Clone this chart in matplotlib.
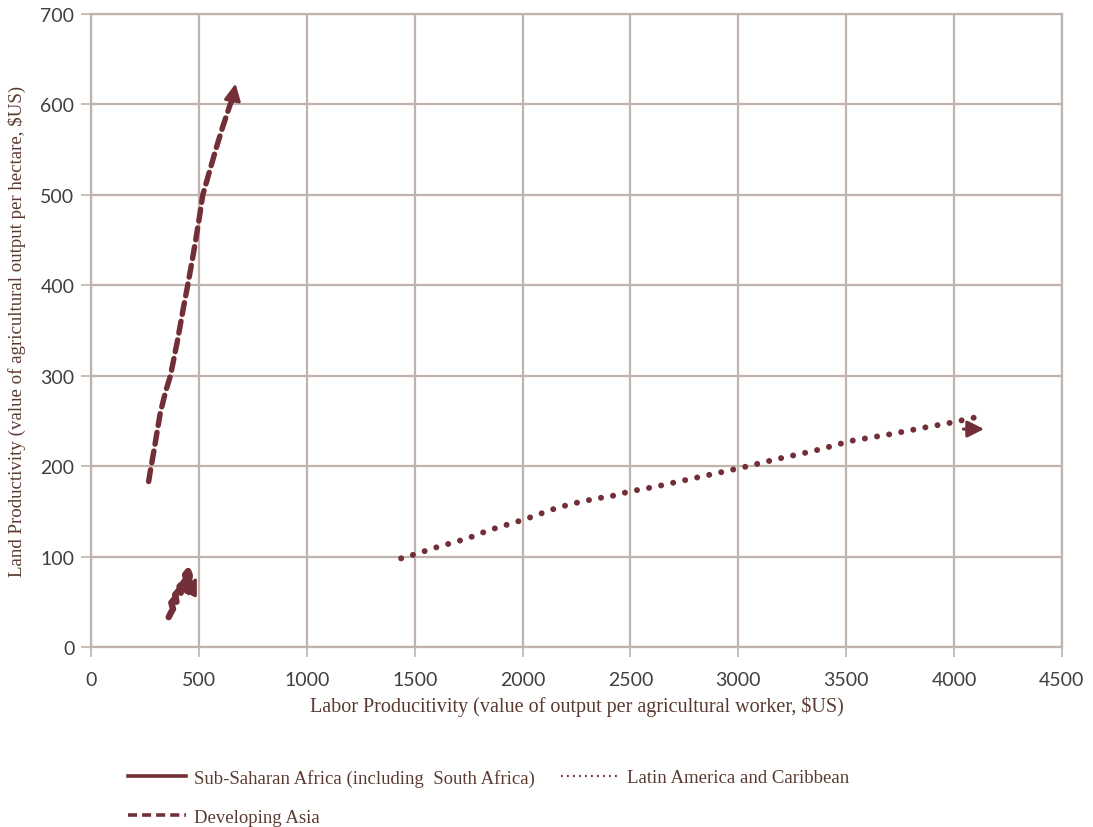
import matplotlib.pyplot as plt
from matplotlib.lines import Line2D

# Land vs labor productivity paths
africa_x = [360, 368, 380, 372, 386, 396, 390, 405, 416, 410, 425, 440, 436, 450, 458, 452, 444]
africa_y = [33, 37, 42, 49, 53, 50, 58, 62, 60, 67, 70, 75, 80, 84, 79, 71, 62]

latin_x = [1437, 1494, 1598, 1744, 1842, 2008, 2173, 2212, 2241, 2356, 2383, 2496,
           2611, 2724, 2897, 3010, 3182, 3353, 3524, 3697, 3870, 3985, 4100]
latin_y = [98, 102, 110, 120, 129, 141, 155, 157, 159, 165, 165, 172,
           177, 183, 192, 198, 208, 217, 228, 235, 243, 248, 254]

asia_x = [267, 275, 290, 321, 345, 368, 400, 428, 448, 467, 485, 502, 518, 548, 578, 610, 645, 656]
asia_y = [183, 195, 215, 259, 282, 300, 338, 375, 400, 425, 450, 475, 500, 525, 550, 575, 600, 606]

x_ticks = [0, 500, 1000, 1500, 2000, 2500, 3000, 3500, 4000, 4500]
y_ticks = [0, 100, 200, 300, 400, 500, 600, 700]

line_color = '#722F37'
grid_color = '#BFB3AC'
text_color = '#5A3A30'
serif = 'Liberation Serif'

fig = plt.figure(figsize=(10.93, 8.28), dpi=100)
ax = fig.add_axes([0.0833, 0.2174, 0.8883, 0.7645])

ax.plot(africa_x, africa_y, color=line_color, lw=4.6, solid_capstyle='round',
        solid_joinstyle='round')
ax.plot(latin_x, latin_y, color=line_color, lw=4.3,
        linestyle=(0, (0.01, 2.05)), dash_capstyle='round')
ax.plot(asia_x, asia_y, color=line_color, lw=3.9,
        linestyle=(0, (2.2, 1.3)), dash_capstyle='round')

arrow = dict(arrowstyle='-|>,head_width=0.5,head_length=1.0', color=line_color, lw=2.2)
ax.annotate('', xy=(672, 626), xytext=(652, 600), arrowprops=arrow)
ax.annotate('', xy=(4152, 241), xytext=(4030, 241), arrowprops=arrow)
ax.annotate('', xy=(496, 80), xytext=(446, 56), arrowprops=arrow)

ax.set_xlim(0, 4500)
ax.set_ylim(0, 700)
ax.set_xticks(x_ticks)
ax.set_yticks(y_ticks)
ax.grid(True, color=grid_color, lw=1.6)
ax.set_axisbelow(True)
for s in ax.spines.values():
    s.set_color(grid_color)
    s.set_linewidth(1.6)
ax.tick_params(colors=grid_color, length=7, width=1.2, labelcolor='#404040',
               labelsize=14)
ax.tick_params(axis='x', pad=10)
ax.tick_params(axis='y', pad=5)
for lab in ax.get_xticklabels() + ax.get_yticklabels():
    lab.set_family('Lato')

ax.set_xlabel('Labor Producitivity (value of output per agricultural worker, $US)',
              family=serif, fontsize=14.5, color=text_color, labelpad=6)
ax.set_ylabel('Land Productivity (value of agricultural output per hectare, $US)',
              family=serif, fontsize=13.6, color=text_color, labelpad=10)

leg_kw = dict(loc='upper left', frameon=False, borderpad=0, borderaxespad=0,
              handlelength=3.1, handletextpad=0.4, labelspacing=1.15,
              prop={'family': serif, 'size': 13.5}, labelcolor=text_color)
fig.legend([Line2D([], [], color=line_color, lw=2.6),
            Line2D([], [], color=line_color, lw=2.6, linestyle=(0, (2.5, 1.4)))],
           ['Sub-Saharan Africa (including  South Africa)', 'Developing Asia'],
           bbox_to_anchor=(128 / 1093, 1 - 770 / 828), **leg_kw)
fig.legend([Line2D([], [], color=line_color, lw=1.6, linestyle=(0, (0.8, 1.9)))],
           ['Latin America and Caribbean'],
           bbox_to_anchor=(561 / 1093, 1 - 770 / 828), **leg_kw)

fig.savefig('out.png', dpi=100)
